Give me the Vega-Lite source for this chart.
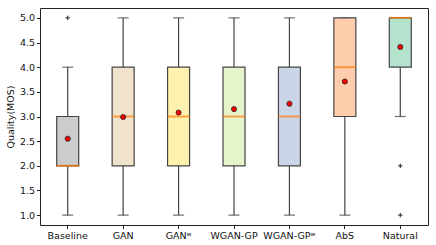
{
  "$schema": "https://vega.github.io/schema/vega-lite/v6.json",
  "autosize": {"type": "none"},
  "width": 388,
  "height": 217,
  "padding": {"left": 40, "top": 8, "right": 8, "bottom": 20},
  "background": "white",
  "config": {
    "view": {"stroke": "#222", "strokeWidth": 1},
    "font": "DejaVu Sans",
    "axis": {"grid": false, "domain": false, "tickColor": "#222", "tickSize": 3.5, "labelColor": "#111", "labelFontSize": 9.5, "titleFontSize": 9.5, "titleFontWeight": "normal", "titleColor": "#111", "labelPadding": 2, "labelOverlap": false, "labelFlush": false},
    "axisQuantitative": {"tickCount": 9}
  },
  "datasets": {
    "boxes": [
      {"model": "Baseline", "low": 1, "q1": 2, "med": 2, "q3": 3, "high": 4, "mean": 2.55, "color": "#cccccc"},
      {"model": "GAN", "low": 1, "q1": 2, "med": 3, "q3": 4, "high": 5, "mean": 2.99, "color": "#f1e2cc"},
      {"model": "GANʷ", "low": 1, "q1": 2, "med": 3, "q3": 4, "high": 5, "mean": 3.08, "color": "#fff2ae"},
      {"model": "WGAN-GP", "low": 1, "q1": 2, "med": 3, "q3": 4, "high": 5, "mean": 3.15, "color": "#e6f5c9"},
      {"model": "WGAN-GPʷ", "low": 1, "q1": 2, "med": 3, "q3": 4, "high": 5, "mean": 3.26, "color": "#cbd5e8"},
      {"model": "AbS", "low": 1, "q1": 3, "med": 4, "q3": 5, "high": 5, "mean": 3.71, "color": "#fdcdac"},
      {"model": "Natural", "low": 3, "q1": 4, "med": 5, "q3": 5, "high": 5, "mean": 4.41, "color": "#b3e2cd"}
    ],
    "outliers": [
      {"model": "Baseline", "value": 5},
      {"model": "Natural", "value": 2},
      {"model": "Natural", "value": 1}
    ]
  },
  "data": {"name": "boxes"},
  "encoding": {
    "x": {"field": "model", "type": "nominal", "sort": ["Baseline", "GAN", "GANʷ", "WGAN-GP", "WGAN-GPʷ", "AbS", "Natural"], "scale": {"paddingInner": 0, "paddingOuter": 0}, "axis": {"title": null, "labelAngle": 0}}
  },
  "layer": [
    {
      "mark": {"type": "rule", "color": "#444", "strokeWidth": 1.2},
      "encoding": {
        "y": {"field": "low", "type": "quantitative", "scale": {"domain": [0.8, 5.2], "nice": false, "zero": false}, "axis": {"title": "Quality(MOS)", "values": {"expr": "[1, 1.5, 2, 2.5, 3, 3.5, 4, 4.5, 5]"}, "tickCount": {"expr": "9"}, "format": ".1f", "titlePadding": 4}},
        "y2": {"field": "high"}
      }
    },
    {
      "mark": {"type": "tick", "color": "#333", "size": 11, "thickness": 1.2},
      "encoding": {"y": {"field": "low", "type": "quantitative"}}
    },
    {
      "mark": {"type": "tick", "color": "#333", "size": 11, "thickness": 1.2},
      "encoding": {"y": {"field": "high", "type": "quantitative"}}
    },
    {
      "mark": {"type": "bar", "size": 22, "stroke": "#444", "strokeWidth": 1.2},
      "encoding": {
        "y": {"field": "q1", "type": "quantitative"},
        "y2": {"field": "q3"},
        "fill": {"field": "color", "type": "nominal", "scale": null}
      }
    },
    {
      "mark": {"type": "tick", "color": "#ff7f0e", "size": 22, "thickness": 2},
      "encoding": {"y": {"field": "med", "type": "quantitative"}}
    },
    {
      "mark": {"type": "point", "filled": true, "fill": "red", "stroke": "#222", "strokeWidth": 0.8, "size": 26, "opacity": 1},
      "encoding": {"y": {"field": "mean", "type": "quantitative"}}
    },
    {
      "data": {"name": "outliers"},
      "mark": {"type": "point", "shape": "M-1,0H1M0,-1V1", "filled": false, "stroke": "#222", "strokeWidth": 1, "size": 20, "opacity": 1},
      "encoding": {"y": {"field": "value", "type": "quantitative"}}
    }
  ]
}
